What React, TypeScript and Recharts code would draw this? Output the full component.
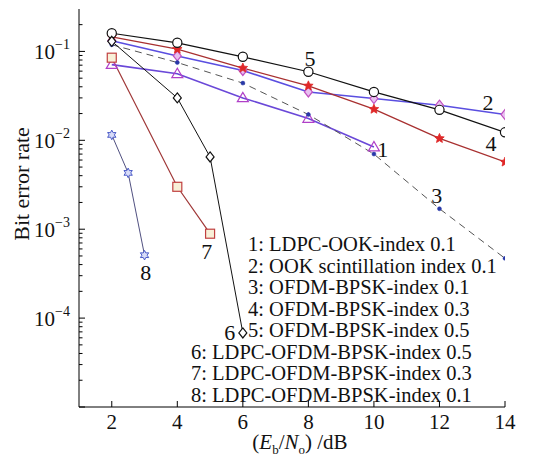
import React from 'react';
import { LineChart, Line, XAxis, YAxis, ReferenceDot } from 'recharts';

// ---- data ----
const s1x = [2, 4, 6, 8, 10];
const s1y = [0.071, 0.056, 0.030, 0.0176, 0.0084];
const s2x = [2, 4, 6, 8, 10, 12, 14];
const s2y = [0.132, 0.089, 0.061, 0.035, 0.0295, 0.0248, 0.0195];
const s3x = [2, 4, 6, 8, 10, 12, 14];
const s3y = [0.119, 0.075, 0.044, 0.0195, 0.0070, 0.0017, 0.00047];
const s4x = [2, 4, 6, 8, 10, 12, 14];
const s4y = [0.146, 0.106, 0.065, 0.041, 0.0224, 0.0105, 0.0057];
const s5x = [2, 4, 6, 8, 10, 12, 14];
const s5y = [0.16, 0.125, 0.087, 0.059, 0.035, 0.022, 0.0123];
const s6x = [2, 4, 5, 6];
const s6y = [0.13, 0.030, 0.0065, 0.000068];
const s7x = [2, 4, 5];
const s7y = [0.085, 0.0030, 0.00089];
const s8x = [2, 2.5, 3];
const s8y = [0.0115, 0.0043, 0.00051];

const legendLabels = [
  '1: LDPC-OOK-index 0.1',
  '2: OOK scintillation index 0.1',
  '3: OFDM-BPSK-index 0.1',
  '4: OFDM-BPSK-index 0.3',
  '5: OFDM-BPSK-index 0.5',
  '6: LDPC-OFDM-BPSK-index 0.5',
  '7: LDPC-OFDM-BPSK-index 0.3',
  '8: LDPC-OFDM-BPSK-index 0.1',
];

const annText = ['1', '2', '3', '4', '5', '6', '7', '8'];
const annX = [10.27, 13.48, 11.92, 13.57, 8.05, 5.6, 4.9, 3.04];
const annY = [0.0079, 0.0268, 0.0024, 0.00925, 0.084, 0.0000684, 0.00056, 0.000325];

const xTicks = [2, 4, 6, 8, 10, 12, 14];
const yMajor = [1e-5, 1e-4, 1e-3, 1e-2, 1e-1];
const yMajorExp = ['−5', '−4', '−3', '−2', '−1'];
const minorMult = [2, 3, 4, 5, 6, 7, 8, 9];

const yTicks: number[] = [];
yMajor.forEach((m) => {
  yTicks.push(m);
  minorMult.forEach((k) => {
    const v = +(k * m).toPrecision(3);
    if (v < 0.3) yTicks.push(v);
  });
});

const mk = (xs: number[], ys: number[]) => xs.map((x, i) => ({ x, y: ys[i] }));

const FONT = '"Liberation Serif", "Times New Roman", serif';

type Shape = 'circle' | 'triangle' | 'diamond' | 'square' | 'star' | 'dot' | 'hexstar';

function starPoints(cx: number, cy: number, n: number, ro: number, ri: number) {
  const pts: string[] = [];
  for (let i = 0; i < 2 * n; i++) {
    const a = -Math.PI / 2 + (i * Math.PI) / n;
    const r = i % 2 === 0 ? ro : ri;
    pts.push(`${cx + r * Math.cos(a)},${cy + r * Math.sin(a)}`);
  }
  return pts.join(' ');
}

function Marker(props: any) {
  const { cx, cy, shape, stroke, fill } = props;
  if (cx == null || cy == null) return null;
  const sw = 1.2;
  switch (shape as Shape) {
    case 'circle':
      return <circle cx={cx} cy={cy} r={4.6} stroke={stroke} strokeWidth={sw} fill={fill} />;
    case 'triangle':
      return (
        <polygon
          points={`${cx},${cy - 5.5} ${cx - 5.5},${cy + 3.8} ${cx + 5.5},${cy + 3.8}`}
          stroke={stroke}
          strokeWidth={sw}
          fill={fill}
        />
      );
    case 'diamond':
      return (
        <polygon
          points={`${cx},${cy - 5} ${cx + 4},${cy} ${cx},${cy + 5} ${cx - 4},${cy}`}
          stroke={stroke}
          strokeWidth={sw}
          fill={fill}
        />
      );
    case 'square':
      return <rect x={cx - 4.5} y={cy - 4.5} width={9} height={9} stroke={stroke} strokeWidth={sw} fill={fill} />;
    case 'star':
      return <polygon points={starPoints(cx, cy, 5, 5, 2.3)} stroke={stroke} strokeWidth={0.8} fill={fill} />;
    case 'hexstar':
      return <polygon points={starPoints(cx, cy, 6, 4.8, 2.6)} stroke={stroke} strokeWidth={1} fill={fill} />;
    case 'dot':
    default:
      return <circle cx={cx} cy={cy} r={2} stroke={stroke} strokeWidth={0.5} fill={fill} />;
  }
}

const series = [
  { id: 's1', data: mk(s1x, s1y), line: '#6a48d8', width: 1.6, dash: undefined, shape: 'triangle', mStroke: '#b040c8', mFill: 'none' },
  { id: 's2', data: mk(s2x, s2y), line: '#5a4ee0', width: 1.6, dash: undefined, shape: 'diamond', mStroke: '#c050c0', mFill: '#e8c0f0' },
  { id: 's3', data: mk(s3x, s3y), line: '#555555', width: 1, dash: '7 5', shape: 'dot', mStroke: '#2838a8', mFill: '#2838a8' },
  { id: 's4', data: mk(s4x, s4y), line: '#a83030', width: 1.3, dash: undefined, shape: 'star', mStroke: '#e02828', mFill: '#e02828' },
  { id: 's5', data: mk(s5x, s5y), line: '#111111', width: 1.2, dash: undefined, shape: 'circle', mStroke: '#111111', mFill: 'white' },
  { id: 's6', data: mk(s6x, s6y), line: '#111111', width: 1, dash: undefined, shape: 'diamond', mStroke: '#111111', mFill: 'white' },
  { id: 's7', data: mk(s7x, s7y), line: '#a03838', width: 1.2, dash: undefined, shape: 'square', mStroke: '#c04040', mFill: '#f8f0d8' },
  { id: 's8', data: mk(s8x, s8y), line: '#505080', width: 1, dash: undefined, shape: 'hexstar', mStroke: '#4a5ac8', mFill: '#d8dcf8' },
];

const BottomTick = (p: any) => {
  const { x, y, payload } = p;
  return (
    <g>
      <line x1={x} y1={y} x2={x} y2={y - 6} stroke="#000" strokeWidth={1} />
      <text x={x} y={y + 22} textAnchor="middle" fontFamily={FONT} fontSize={21} fill="#111">
        {payload.value}
      </text>
    </g>
  );
};

const TopTick = (p: any) => {
  const { x, y } = p;
  return <line x1={x} y1={y} x2={x} y2={y + 6} stroke="#000" strokeWidth={1} />;
};

const isMajor = (v: number) => yMajor.some((m) => Math.abs(v / m - 1) < 1e-6);

const LeftTick = (p: any) => {
  const { x, y, payload } = p;
  const v = payload.value;
  const major = isMajor(v);
  const idx = yMajor.findIndex((m) => Math.abs(v / m - 1) < 1e-6);
  return (
    <g>
      <line x1={x} y1={y} x2={x + (major ? 6 : 3.5)} y2={y} stroke="#000" strokeWidth={1} />
      {major && v > 1.5e-5 ? (
        <text x={x - 9} y={y + 8} textAnchor="end" fontFamily={FONT} fontSize={21} fill="#111">
          10
          <tspan fontSize={14} dy={-10}>
            {yMajorExp[idx]}
          </tspan>
        </text>
      ) : null}
    </g>
  );
};

const RightTick = (p: any) => {
  const { x, y, payload } = p;
  const major = isMajor(payload.value);
  return <line x1={x} y1={y} x2={x - (major ? 6 : 3.5)} y2={y} stroke="#000" strokeWidth={1} />;
};

const AnnLabel = (text: string) => (p: any) => {
  const { cx, cy } = p;
  if (cx == null) return null;
  return (
    <text x={cx} y={cy} dy="0.35em" textAnchor="middle" fontFamily={FONT} fontSize={22} fill="#111">
      {text}
    </text>
  );
};

const YTitle = () => (
  <text
    x={21}
    y={184}
    transform="rotate(-90 21 184)"
    textAnchor="middle"
    dominantBaseline="central"
    fontFamily={FONT}
    fontSize={22}
    fill="#111"
  >
    Bit error rate
  </text>
);

const XTitle = () => (
  <text x={300} y={449} textAnchor="middle" fontFamily={FONT} fontSize={21} fill="#111">
    (<tspan fontStyle="italic">E</tspan>
    <tspan fontSize={13} dy={5}>b</tspan>
    <tspan dy={-5}>/</tspan>
    <tspan fontStyle="italic">N</tspan>
    <tspan fontSize={13} dy={5}>o</tspan>
    <tspan dy={-5}>) /dB</tspan>
  </text>
);

export default function App() {
  return (
    <div style={{ position: 'absolute', left: 0, top: 0, width: 544, height: 455, background: '#fff' }}>
      <LineChart width={544} height={455} margin={{ top: 9, right: 39, bottom: 0, left: 0 }}>
        <XAxis
          xAxisId={0}
          dataKey="x"
          type="number"
          domain={[1, 14]}
          ticks={xTicks}
          interval={0}
          allowDataOverflow
          height={48}
          tickSize={0}
          tickMargin={0}
          tickLine={false}
          axisLine={{ stroke: '#000', strokeWidth: 1 }}
          tick={BottomTick}
          label={{ content: XTitle }}
        />
        <XAxis
          xAxisId="top"
          orientation="top"
          dataKey="x"
          type="number"
          domain={[1, 14]}
          ticks={xTicks}
          interval={0}
          allowDataOverflow
          height={0}
          tickSize={0}
          tickMargin={0}
          tickLine={false}
          axisLine={{ stroke: '#000', strokeWidth: 1 }}
          tick={TopTick}
        />
        <YAxis
          yAxisId={0}
          dataKey="y"
          type="number"
          scale="log"
          domain={[1e-5, 0.3]}
          ticks={yTicks}
          interval={0}
          allowDataOverflow
          width={79}
          tickSize={0}
          tickMargin={0}
          tickLine={false}
          axisLine={{ stroke: '#000', strokeWidth: 1 }}
          tick={LeftTick}
          label={{ content: YTitle }}
        />
        <YAxis
          yAxisId="right"
          orientation="right"
          dataKey="y"
          type="number"
          scale="log"
          domain={[1e-5, 0.3]}
          ticks={yTicks}
          interval={0}
          allowDataOverflow
          width={0}
          tickSize={0}
          tickMargin={0}
          tickLine={false}
          axisLine={{ stroke: '#000', strokeWidth: 1 }}
          tick={RightTick}
        />
        {series.map((s) => (
          <Line
            key={s.id}
            data={s.data}
            dataKey="y"
            xAxisId={0}
            yAxisId={0}
            type="linear"
            stroke={s.line}
            strokeWidth={s.width}
            strokeDasharray={s.dash}
            isAnimationActive={false}
            dot={(p: any) => (
              <Marker key={`${s.id}-${p.index}`} cx={p.cx} cy={p.cy} shape={s.shape} stroke={s.mStroke} fill={s.mFill} />
            )}
            activeDot={false}
          />
        ))}
        {annText.map((t, i) => (
          <ReferenceDot key={`ann-${t}`} x={annX[i]} y={annY[i]} xAxisId={0} yAxisId={0} r={0} shape={AnnLabel(t)} />
        ))}
      </LineChart>
      <div
        style={{
          position: 'absolute',
          left: 191,
          top: 234,
          fontFamily: FONT,
          fontSize: 20.5,
          lineHeight: '21.5px',
          color: '#111',
          whiteSpace: 'nowrap',
          pointerEvents: 'none',
        }}
      >
        {legendLabels.map((l, i) => (
          <div key={l} style={{ paddingLeft: i < 5 ? 57 : 0 }}>
            {l}
          </div>
        ))}
      </div>
    </div>
  );
}
